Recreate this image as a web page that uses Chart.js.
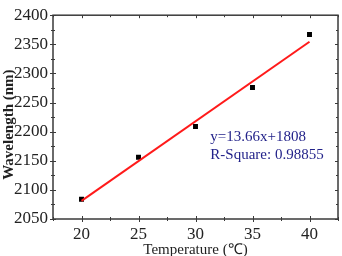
<!DOCTYPE html>
<html>
<head>
<meta charset="utf-8">
<script src="https://cdn.jsdelivr.net/npm/chart.js@4/dist/chart.umd.min.js"></script>
<style>
  html, body { margin: 0; padding: 0; background: #fff; }
  #wrap { width: 342px; height: 256px; }
</style>
</head>
<body>
<div id="wrap"><canvas id="chart"></canvas></div>
<script>
// measured points
const temps = [20, 25, 30, 35, 40];
const wavelengths = [2084, 2156, 2209, 2276, 2367];

// linear fit endpoints (y = 13.66x + 1808)
const fitX = [20, 40];
const fitY = [2081.2, 2354.4];

const xTicks = [20, 25, 30, 35, 40];
const yTicks = [2050, 2100, 2150, 2200, 2250, 2300, 2350, 2400];
const fitLabel = ["y=13.66x+1808", "R-Square: 0.98855"];

const serif = "'Liberation Serif', 'Times New Roman', serif";
const axisColor = "#3a3a3a";

// draws the box frame with major/minor ticks on all four sides
const frameTicks = {
  id: "frameTicks",
  afterDraw(chart) {
    const { ctx, chartArea: a, scales } = chart;
    const x = scales.x, y = scales.y;
    ctx.save();
    ctx.strokeStyle = axisColor;
    ctx.lineWidth = 1.5;
    ctx.strokeRect(a.left, a.top, a.right - a.left, a.bottom - a.top);
    ctx.lineWidth = 1;
    ctx.beginPath();
    for (let v = x.min; v <= x.max + 1e-6; v += 2.5) {
      const px = Math.round(x.getPixelForValue(v)) + 0.5;
      const major = xTicks.includes(v);
      const len = major ? 3 : 2;
      ctx.moveTo(px, a.bottom - len); ctx.lineTo(px, a.bottom + len);
      ctx.moveTo(px, a.top); ctx.lineTo(px, a.top + len);
    }
    for (let v = y.min; v <= y.max + 1e-6; v += 25) {
      const py = Math.round(y.getPixelForValue(v)) + 0.5;
      const major = yTicks.includes(v);
      const len = major ? 3 : 2;
      ctx.moveTo(a.left - len, py); ctx.lineTo(a.left + len, py);
      ctx.moveTo(a.right - len, py); ctx.lineTo(a.right, py);
    }
    ctx.stroke();

    // fit equation text
    ctx.fillStyle = "#23238a";
    ctx.font = "15px " + serif;
    ctx.textBaseline = "middle";
    const tx = x.getPixelForValue(31.3);
    ctx.fillText(fitLabel[0], tx, y.getPixelForValue(2190));
    ctx.fillText(fitLabel[1], tx, y.getPixelForValue(2159));
    ctx.restore();
  }
};

new Chart(document.getElementById("chart"), {
  type: "scatter",
  data: {
    datasets: [
      {
        label: "Fit",
        type: "line",
        data: fitX.map((t, i) => ({ x: t, y: fitY[i] })),
        borderColor: "#ff1a1a",
        borderWidth: 2,
        pointRadius: 0,
        fill: false
      },
      {
        label: "Wavelength",
        data: temps.map((t, i) => ({ x: t, y: wavelengths[i] })),
        pointStyle: "rect",
        pointRadius: 3.5,
        backgroundColor: "#000",
        borderColor: "#000",
        borderWidth: 0
      }
    ]
  },
  options: {
    responsive: true,
    maintainAspectRatio: false,
    animation: false,
    layout: { padding: { top: 6, right: 2, left: 0, bottom: 0 } },
    plugins: { legend: { display: false }, tooltip: { enabled: false } },
    scales: {
      x: {
        type: "linear",
        min: 17.5,
        max: 42.5,
        afterBuildTicks: (s) => { s.ticks = xTicks.map((v) => ({ value: v })); },
        afterFit: (s) => { s.height = 37; },
        grid: { display: false, drawTicks: false },
        border: { display: false },
        ticks: { color: "#222", font: { family: serif, size: 17 }, padding: 5, maxRotation: 0, callback: (v) => String(v) },
        title: { display: true, text: "Temperature (℃)", color: "#222", font: { family: serif, size: 15 }, padding: { top: 0, bottom: -3 } }
      },
      y: {
        min: 2050,
        max: 2400,
        afterBuildTicks: (s) => { s.ticks = yTicks.map((v) => ({ value: v })); },
        afterFit: (s) => { s.width = 53; },
        grid: { display: false, drawTicks: false },
        border: { display: false },
        ticks: { color: "#222", font: { family: serif, size: 17 }, padding: 5, callback: (v) => String(v) },
        title: { display: true, text: "Wavelength (nm)    ", color: "#222", font: { family: serif, size: 15, weight: "bold" }, padding: { top: 0, bottom: 0 } }
      }
    }
  },
  plugins: [frameTicks]
});
</script>
</body>
</html>
